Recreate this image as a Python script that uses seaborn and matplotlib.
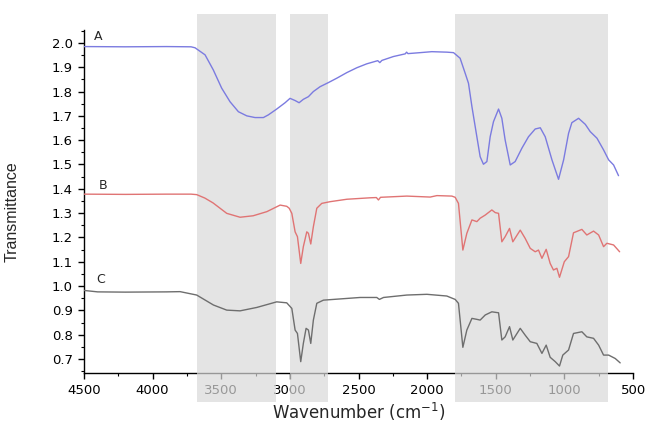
import numpy as np
import pandas as pd
import seaborn as sns
import matplotlib.pyplot as plt
from matplotlib.ticker import MultipleLocator, FormatStrFormatter

# wavenumber (cm-1) / transmittance
wn_a = [4500, 4200, 3900, 3720, 3691, 3618, 3558, 3497, 3436, 3375, 3314, 3254, 3193, 3157,
        3096, 3035, 2999, 2962, 2933, 2902, 2865, 2829, 2780, 2719, 2658, 2585, 2512, 2440,
        2360, 2345, 2330, 2246, 2160, 2150, 2140, 2051, 1966, 1856, 1808, 1760, 1723, 1699,
        1674, 1638, 1614, 1590, 1565, 1541, 1517, 1480, 1456, 1432, 1395, 1359, 1310, 1262,
        1213, 1176, 1140, 1091, 1043, 1006, 970, 946, 897, 848, 812, 763, 715, 678, 642, 606]
t_a = [1.985, 1.984, 1.985, 1.984, 1.980, 1.951, 1.889, 1.814, 1.758, 1.717, 1.700, 1.693, 1.693, 1.704,
       1.728, 1.754, 1.772, 1.763, 1.754, 1.768, 1.779, 1.800, 1.820, 1.837, 1.855, 1.878, 1.898, 1.914,
       1.927, 1.919, 1.928, 1.944, 1.955, 1.962, 1.956, 1.960, 1.964, 1.962, 1.960, 1.937, 1.875, 1.834,
       1.738, 1.614, 1.532, 1.501, 1.512, 1.614, 1.676, 1.728, 1.690, 1.601, 1.498, 1.512, 1.567, 1.614,
       1.646, 1.651, 1.614, 1.519, 1.439, 1.519, 1.628, 1.672, 1.690, 1.665, 1.635, 1.608, 1.560, 1.519,
       1.498, 1.454]

wn_b = [4500, 4200, 3900, 3720, 3679, 3620, 3560, 3460, 3363, 3268, 3168, 3071, 3023, 3005,
        2986, 2962, 2945, 2921, 2902, 2877, 2865, 2848, 2829, 2804, 2768, 2707, 2585, 2415,
        2370, 2355, 2340, 2148, 1978, 1929, 1820, 1796, 1772, 1740, 1711, 1674, 1638, 1614,
        1577, 1529, 1504, 1480, 1456, 1432, 1400, 1376, 1322, 1286, 1249, 1213, 1189, 1164,
        1133, 1104, 1080, 1055, 1036, 1001, 970, 934, 873, 837, 788, 751, 715, 691, 642, 598]
t_b = [1.378, 1.377, 1.378, 1.378, 1.376, 1.362, 1.342, 1.299, 1.283, 1.289, 1.306, 1.333, 1.328, 1.320,
       1.299, 1.223, 1.203, 1.093, 1.162, 1.223, 1.217, 1.173, 1.244, 1.320, 1.340, 1.347, 1.357, 1.363,
       1.364, 1.354, 1.365, 1.370, 1.366, 1.372, 1.370, 1.365, 1.340, 1.148, 1.217, 1.272, 1.265, 1.279,
       1.292, 1.313, 1.302, 1.299, 1.182, 1.203, 1.237, 1.182, 1.230, 1.196, 1.155, 1.141, 1.148, 1.114,
       1.151, 1.093, 1.066, 1.073, 1.036, 1.100, 1.121, 1.219, 1.233, 1.210, 1.226, 1.210, 1.162, 1.176,
       1.169, 1.141]

wn_c = [4500, 4400, 4200, 3900, 3800, 3679, 3557, 3460, 3363, 3241, 3096, 3023, 2986, 2962,
        2945, 2921, 2902, 2882, 2865, 2848, 2829, 2804, 2756, 2683, 2488, 2367, 2348, 2318,
        2148, 2002, 1857, 1796, 1772, 1740, 1711, 1674, 1638, 1614, 1577, 1529, 1480, 1456,
        1432, 1400, 1376, 1322, 1286, 1249, 1201, 1164, 1133, 1104, 1067, 1036, 1012, 970,
        934, 873, 837, 788, 751, 715, 678, 630, 594]
t_c = [0.982, 0.976, 0.975, 0.976, 0.977, 0.963, 0.922, 0.901, 0.898, 0.912, 0.935, 0.931, 0.908, 0.819,
       0.805, 0.689, 0.764, 0.826, 0.819, 0.764, 0.860, 0.929, 0.942, 0.945, 0.953, 0.953, 0.945, 0.953,
       0.963, 0.966, 0.959, 0.945, 0.929, 0.748, 0.819, 0.867, 0.863, 0.860, 0.881, 0.894, 0.890, 0.778,
       0.791, 0.833, 0.778, 0.826, 0.798, 0.771, 0.764, 0.723, 0.757, 0.707, 0.689, 0.671, 0.716, 0.737,
       0.805, 0.812, 0.791, 0.785, 0.757, 0.716, 0.716, 0.702, 0.684]

sample_names = ["A", "B", "C"]
bands = [(3680, 3100), (3000, 2720), (1800, 680)]

spectra = pd.concat([
    pd.DataFrame({"Wavenumber": wn_a, "Transmittance": t_a, "Sample": "A"}),
    pd.DataFrame({"Wavenumber": wn_b, "Transmittance": t_b, "Sample": "B"}),
    pd.DataFrame({"Wavenumber": wn_c, "Transmittance": t_c, "Sample": "C"}),
], ignore_index=True)

sns.set_style("ticks")
# the source text is wide, DejaVu gets closer to it than Arial metrics
plt.rcParams["font.family"] = ["DejaVu Sans"]

palette = {"A": "#7b7be0", "B": "#e07474", "C": "#6e6e6e"}

fig = plt.figure(figsize=(6.46, 4.23), dpi=100)
ax = fig.add_axes([0.130, 0.118, 0.850, 0.811])

sns.lineplot(data=spectra, x="Wavenumber", y="Transmittance", hue="Sample",
             palette=palette, estimator=None, sort=False, linewidth=1.0,
             legend=False, ax=ax, zorder=3)

# shaded regions run past the axes, over the tick labels
for lo, hi in bands:
    ax.axvspan(hi, lo, ymin=-0.085, ymax=1.047, color="#d9d9d9", alpha=0.7,
               lw=0, clip_on=False, zorder=2.6)

label_pos = {"A": (4395, 2.025), "B": (4360, 1.415), "C": (4380, 1.025)}
for name in sample_names:
    x, y = label_pos[name]
    ax.text(x, y, name, fontsize=9, ha="center", va="center", zorder=4)

ax.set_xlim(4500, 500)
ax.set_ylim(0.642, 2.053)
ax.xaxis.set_major_locator(MultipleLocator(500))
ax.xaxis.set_minor_locator(MultipleLocator(250))
ax.yaxis.set_major_locator(MultipleLocator(0.1))
ax.yaxis.set_minor_locator(MultipleLocator(0.05))
ax.yaxis.set_major_formatter(FormatStrFormatter("%.1f"))

sns.despine(ax=ax)
for side in ["left", "bottom"]:
    ax.spines[side].set_color("black")
    ax.spines[side].set_linewidth(1.0)
ax.tick_params(which="major", direction="out", length=4.5, width=1, labelsize=9.5, colors="black")
ax.tick_params(which="minor", direction="out", length=2.5, width=0.8, colors="black")

ax.set_xlabel("Wavenumber (cm$^{-1}$)", fontsize=12, labelpad=3)
ax.set_ylabel("Transmittance", fontsize=11.5, family=["Liberation Sans", "DejaVu Sans"])
ax.yaxis.set_label_coords(-0.117, 0.47)

fig.savefig("out.png", dpi=100)
